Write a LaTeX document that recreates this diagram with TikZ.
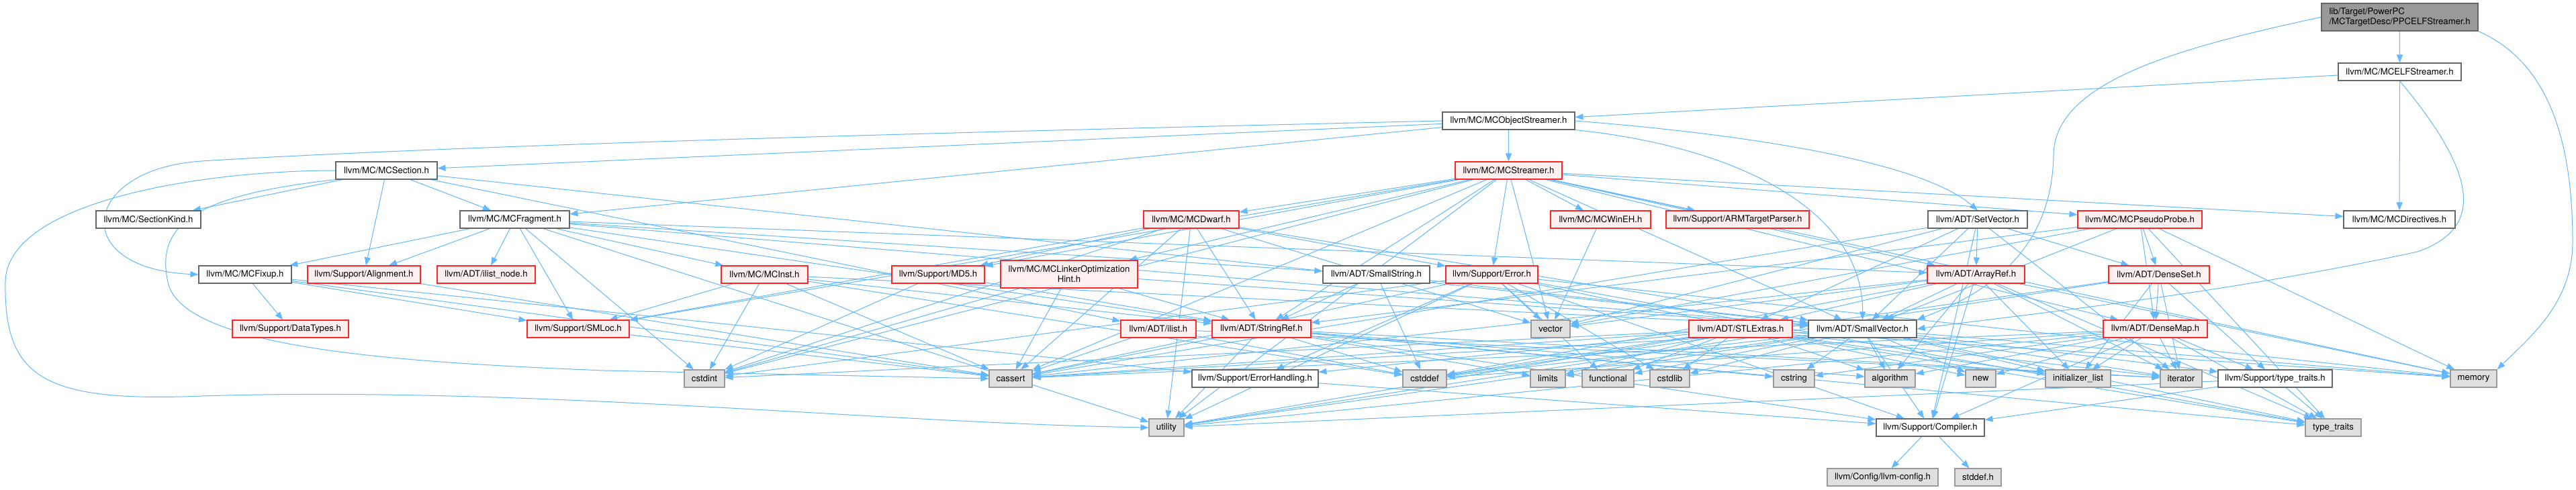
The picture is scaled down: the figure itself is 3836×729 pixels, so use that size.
\documentclass[tikz,border=0pt]{standalone}
\usepackage{fontspec}
\setmainfont{TeX Gyre Heros}
\usetikzlibrary{arrows.meta}
\definecolor{edgec}{HTML}{63B8FF}
\definecolor{redfill}{HTML}{FFF0F0}
\definecolor{sysfill}{HTML}{E0E0E0}
\definecolor{sysdraw}{HTML}{999999}
\definecolor{normdraw}{HTML}{666666}
\definecolor{rootfill}{HTML}{999999}
\pgfdeclarelayer{bg}
\pgfsetlayers{bg,main}
\newcommand\dxfont{\fontsize{13.2}{15}\selectfont}
\tikzset{
 nb/.style={draw, line width=1.1pt, minimum height=26pt, inner sep=0pt, font=\dxfont, text=black},
 wnode/.style={nb, draw=normdraw, fill=white},
 rnode/.style={nb, draw=red!85!white, fill=redfill},
 snode/.style={nb, draw=sysdraw, fill=sysfill},
 lnk/.style={draw=edgec, line width=1.0pt, -{Triangle[length=12pt,width=9pt]}},
}
\begin{document}
\begin{tikzpicture}[x=1pt,y=-1pt]
\useasboundingbox (0,0) rectangle (3836,729);
% nodes
\node[nb, draw=normdraw, fill=rootfill, minimum width=233pt, minimum height=41pt, align=left] (root) at (3573.5,25.5) {lib/Target/PowerPC\\/MCTargetDesc/PPCELFStreamer.h};
\node[wnode, minimum width=183pt] (elf) at (3573.5,107) {llvm/MC/MCELFStreamer.h};
\node[wnode, minimum width=197pt] (obj) at (2246.5,180) {llvm/MC/MCObjectStreamer.h};
\node[wnode, minimum width=151pt] (sec) at (575.5,254) {llvm/MC/MCSection.h};
\node[rnode, minimum width=159pt] (str) at (2246.5,254) {llvm/MC/MCStreamer.h};
\node[wnode, minimum width=156pt] (skind) at (221,327) {llvm/MC/SectionKind.h};
\node[wnode, minimum width=163pt] (frag) at (766.5,327) {llvm/MC/MCFragment.h};
\node[rnode, minimum width=142pt] (dwarf) at (1774,327) {llvm/MC/MCDwarf.h};
\node[rnode, minimum width=149pt] (wineh) at (2383.5,327) {llvm/MC/MCWinEH.h};
\node[rnode, minimum width=213pt] (arm) at (2587.5,327) {llvm/Support/ARMTargetParser.h};
\node[wnode, minimum width=148pt] (setv) at (2945,327) {llvm/ADT/SetVector.h};
\node[rnode, minimum width=185pt] (probe) at (3186.5,327) {llvm/MC/MCPseudoProbe.h};
\node[wnode, minimum width=166pt] (dir) at (3573,327) {llvm/MC/MCDirectives.h};
\node[wnode, minimum width=138pt] (fixup) at (365,409) {llvm/MC/MCFixup.h};
\node[rnode, minimum width=168pt] (align) at (542,409) {llvm/Support/Alignment.h};
\node[rnode, minimum width=146pt] (inode) at (724,409) {llvm/ADT/ilist\_node.h};
\node[rnode, minimum width=129pt] (inst) at (1138.5,409) {llvm/MC/MCInst.h};
\node[rnode, minimum width=138pt] (md5) at (1397,409) {llvm/Support/MD5.h};
\node[rnode, minimum width=204pt, minimum height=41pt, align=center] (loh) at (1592,408.5) {llvm/MC/MCLinkerOptimization\\Hint.h};
\node[wnode, minimum width=159pt] (sstr) at (2049.5,409) {llvm/ADT/SmallString.h};
\node[rnode, minimum width=137pt] (err) at (2221.5,409) {llvm/Support/Error.h};
\node[rnode, minimum width=145pt] (aref) at (2942.5,409) {llvm/ADT/ArrayRef.h};
\node[rnode, minimum width=150pt] (dset) at (3215,409) {llvm/ADT/DenseSet.h};
\node[rnode, minimum width=173pt] (dtypes) at (432.5,490) {llvm/Support/DataTypes.h};
\node[rnode, minimum width=152pt] (smloc) at (861,490) {llvm/Support/SMLoc.h};
\node[rnode, minimum width=112pt] (ilist) at (1725,490) {llvm/ADT/ilist.h};
\node[rnode, minimum width=147pt] (sref) at (1878.5,490) {llvm/ADT/StringRef.h};
\node[snode, minimum width=58pt] (vec) at (2309,490) {vector};
\node[rnode, minimum width=154pt] (stl) at (2592,490) {llvm/ADT/STLExtras.h};
\node[wnode, minimum width=161pt] (svec) at (2773.5,490) {llvm/ADT/SmallVector.h};
\node[rnode, minimum width=155pt] (dmap) at (3209.5,490) {llvm/ADT/DenseMap.h};
\node[snode, minimum width=60pt] (cstdint) at (1049,564) {cstdint};
\node[snode, minimum width=64pt] (cassert) at (1505,564) {cassert};
\node[wnode, minimum width=188pt] (ehandl) at (1869,564) {llvm/Support/ErrorHandling.h};
\node[snode, minimum width=65pt] (cstddef) at (2121.5,564) {cstddef};
\node[snode, minimum width=52pt] (limits) at (2305,564) {limits};
\node[snode, minimum width=77pt] (functional) at (2394.5,564) {functional};
\node[snode, minimum width=59pt] (cstdlib) at (2486.5,564) {cstdlib};
\node[snode, minimum width=61pt] (cstring) at (2671.5,564) {cstring};
\node[snode, minimum width=75pt] (algorithm) at (2814.5,564) {algorithm};
\node[snode, minimum width=45pt] (nnew) at (2949.5,564) {new};
\node[snode, minimum width=97pt] (initl) at (3094.5,564) {initializer\_list};
\node[snode, minimum width=62pt] (iter) at (3248,564) {iterator};
\node[wnode, minimum width=170pt] (sttr) at (3388,564) {llvm/Support/type\_traits.h};
\node[snode, minimum width=69pt] (memory) at (3683.5,564) {memory};
\node[snode, minimum width=52pt] (utility) at (1737,637) {utility};
\node[wnode, minimum width=161pt] (compiler) at (2874.5,637) {llvm/Support/Compiler.h};
\node[snode, minimum width=83pt] (ttr) at (3474.5,637) {type\_traits};
\node[snode, minimum width=165pt] (llcfg) at (2803.5,711) {llvm/Config/llvm-config.h};
\node[snode, minimum width=69pt] (stddefh) at (2945.5,711) {stddef.h};
% edges
\begin{pgfonlayer}{bg}
\fill[white] (0,0) rectangle (3836,729);
\foreach \s/\t in {root/elf, elf/dir, elf/obj,
 obj/frag, obj/sec, obj/str,
 sec/svec, sec/frag, sec/skind, sec/align, sec/ilist,
 frag/aref, frag/sstr, frag/svec, frag/sref, frag/inode, frag/fixup, frag/inst, frag/align, frag/smloc, frag/cstdint, frag/utility,
 fixup/dtypes, fixup/ehandl, fixup/smloc, fixup/cassert,
 align/cassert, smloc/cassert,
 inst/svec, inst/sref, inst/smloc, inst/cassert, inst/cstddef, inst/cstdint,
 dwarf/svec, dwarf/sref, dwarf/err, dwarf/md5, dwarf/smloc, dwarf/cassert, dwarf/cstdint, dwarf/utility, dwarf/vec,
 str/aref, str/dmap, str/svec, str/sref, str/dir, str/dwarf, str/loh, str/probe, str/wineh, str/arm, str/err, str/md5, str/smloc, str/cassert, str/cstdint, str/memory, str/utility, str/vec,
 wineh/vec,
 setv/aref, setv/dset, setv/stl, setv/svec, setv/compiler, setv/cassert, setv/iter, setv/vec,
 probe/dmap, probe/dset, probe/svec, probe/sref, probe/memory, probe/ttr, probe/vec,
 loh/svec, loh/sref, loh/cassert, loh/cstdint,
 md5/sref, md5/cstdint,
 sstr/svec, sstr/sref, sstr/cstddef,
 err/compiler, err/ehandl, err/cassert, err/cstdint, err/cstdlib, err/functional, err/memory, err/nnew, err/ttr, err/utility, err/vec,
 aref/stl, aref/svec, aref/compiler, aref/algorithm, aref/cassert, aref/cstddef, aref/initl, aref/iter, aref/memory, aref/ttr, aref/vec,
 dset/dmap, dset/sttr, dset/cstddef, dset/initl, dset/iter, dset/utility,
 dmap/compiler, dmap/sttr, dmap/algorithm, dmap/cassert, dmap/cstddef, dmap/cstring, dmap/initl, dmap/iter, dmap/nnew, dmap/ttr, dmap/utility,
 sref/compiler, sref/algorithm, sref/cassert, sref/cstddef, sref/cstring, sref/iter, sref/limits, sref/ttr, sref/utility,
 ilist/cassert, ilist/cstddef, ilist/iter,
 stl/ehandl, stl/algorithm, stl/cassert, stl/cstddef, stl/cstdint, stl/cstdlib, stl/functional, stl/initl, stl/iter, stl/limits, stl/memory, stl/ttr, stl/utility,
 svec/compiler, svec/sttr, svec/algorithm, svec/cassert, svec/cstddef, svec/cstdlib, svec/cstring, svec/functional, svec/initl, svec/iter, svec/limits, svec/memory, svec/nnew, svec/ttr, svec/utility,
 ehandl/compiler, sttr/compiler, sttr/ttr, sttr/utility,
 compiler/llcfg, compiler/stddefh}
 \draw[lnk] (\s) -- (\t);
% curved edges
\draw[lnk] (root.south east) .. controls (3790,90) and (3831,200) .. (3831,360) .. controls (3831,450) and (3770,500) .. (memory.north east);
\draw[lnk] (root.west) .. controls (3250,70) and (3060,120) .. (3058,230) .. controls (3056,380) and (2950,440) .. (svec.north east);
\draw[lnk] (elf.south) .. controls (3690,260) and (3700,340) .. (3600,375) .. controls (3300,440) and (3000,470) .. (svec.east);
\draw[lnk] (obj.east) .. controls (2600,200) and (2860,240) .. (setv.north);
\draw[lnk] (obj.south east) .. controls (2600,220) and (2775,320) .. (svec.north);
\draw[lnk] (obj.west) .. controls (1500,195) and (700,215) .. (300,240) .. controls (120,252) and (100,400) .. (fixup.west);
\draw[lnk] (sec.west) .. controls (300,254) and (10,300) .. (8,420) .. controls (6,560) and (60,600) .. (300,590) .. controls (800,575) and (1300,630) .. (utility.west);
\draw[lnk] (sec.south west) .. controls (300,290) and (230,330) .. (250,420) .. controls (270,520) and (600,540) .. (900,552) -- (cassert.west);
\end{pgfonlayer}
\end{tikzpicture}
\end{document}
